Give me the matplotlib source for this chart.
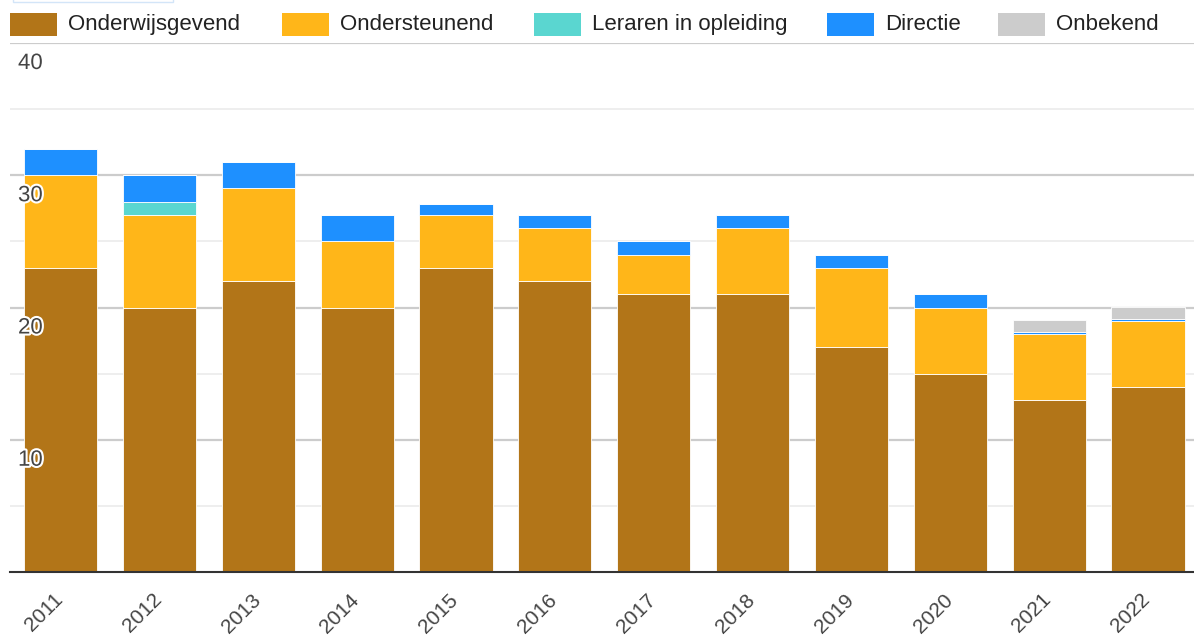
import matplotlib
matplotlib.use("Agg")
import matplotlib.pyplot as plt
import matplotlib.patheffects as pe
import matplotlib.transforms as mtransforms
from matplotlib.patches import Rectangle
import numpy as np

plt.rcParams['font.family'] = ['Liberation Sans', 'DejaVu Sans']

years = ["2011", "2012", "2013", "2014", "2015", "2016", "2017", "2018", "2019", "2020", "2021", "2022"]
onderwijsgevend = [23, 20, 22, 20, 23, 22, 21, 21, 17, 15, 13, 14]
ondersteunend = [7, 7, 7, 5, 4, 4, 3, 5, 6, 5, 5, 5]
leraren = [0, 1, 0, 0, 0, 0, 0, 0, 0, 0, 0, 0]
directie = [2, 2, 2, 2, 0.85, 1, 1, 1, 1, 1, 0.15, 0.15]
onbekend = [0, 0, 0, 0, 0, 0, 0, 0, 0, 0, 0.9, 0.9]

series_names = ["Onderwijsgevend", "Ondersteunend", "Leraren in opleiding", "Directie", "Onbekend"]
series_vals = [onderwijsgevend, ondersteunend, leraren, directie, onbekend]
colors = ["#b27518", "#ffb619", "#5ad6d0", "#1e90ff", "#cccccc"]
y_labels = [10, 20, 30, 40]

W, H = 1194, 640
fig = plt.figure(figsize=(W / 100, H / 100), dpi=100)

def fx(px):
    return px / W

def fy(py):
    return 1 - py / H

ax_left, ax_right, ax_top, ax_bottom = 10, 1194, 43, 572
ax = fig.add_axes([fx(ax_left), fy(ax_bottom), fx(ax_right - ax_left), (ax_bottom - ax_top) / H])

x = np.arange(len(years))
bottom = np.zeros(len(years))
for name, vals, col in zip(series_names, series_vals, colors):
    v = np.array(vals, dtype=float)
    ax.bar(x, v, width=0.74, bottom=bottom, color=col, edgecolor="white",
           linewidth=0.6, zorder=3, label=name)
    bottom += v

ax.set_ylim(0, 40)
ax.set_xlim(-0.511, 11.466)

# gridlines
for g in [5, 15, 25, 35]:
    ax.axhline(g, color="#ebebeb", lw=1.2, zorder=1)
for g in [10, 20, 30, 40]:
    ax.axhline(g, color="#cccccc", lw=1.6, zorder=1)

for s in ["top", "right", "left"]:
    ax.spines[s].set_visible(False)
ax.spines["bottom"].set_color("#333333")
ax.spines["bottom"].set_linewidth(1.5)
ax.spines["bottom"].set_zorder(5)
ax.set_yticks([])
ax.set_xticks(x)
ax.set_xticklabels(years, rotation=45, ha="right", va="top", fontsize=15, color="#444444")
ax.tick_params(axis="x", length=0, pad=13)
offset = mtransforms.ScaledTranslation(6 / 100, 0, fig.dpi_scale_trans)
for lbl in ax.get_xticklabels():
    lbl.set_transform(lbl.get_transform() + offset)

# y labels inside plot, below gridline, with white halo
for yl in y_labels:
    ax.annotate(str(yl), xy=(0, yl), xycoords=("axes fraction", "data"),
                xytext=(8, -10), textcoords="offset pixels",
                ha="left", va="top", fontsize=16, color="#444444", zorder=6,
                path_effects=[pe.withStroke(linewidth=3, foreground="white")])

# legend (manual placement)
sw_x = [10, 282, 534, 827, 998]
for sx, name, col in zip(sw_x, series_names, colors):
    fig.patches.append(Rectangle((fx(sx), fy(36)), fx(47), 23 / H, transform=fig.transFigure,
                                 facecolor=col, edgecolor="none"))
    fig.text(fx(sx + 58), fy(24.5), name, ha="left", va="center", fontsize=16, color="#222222")

# small tab element top-left
fig.patches.append(Rectangle((fx(13), fy(2)), fx(160), 4 / H, transform=fig.transFigure,
                             facecolor="white", edgecolor="#d3e5f8", linewidth=1))

fig.savefig("out.png", dpi=100)
